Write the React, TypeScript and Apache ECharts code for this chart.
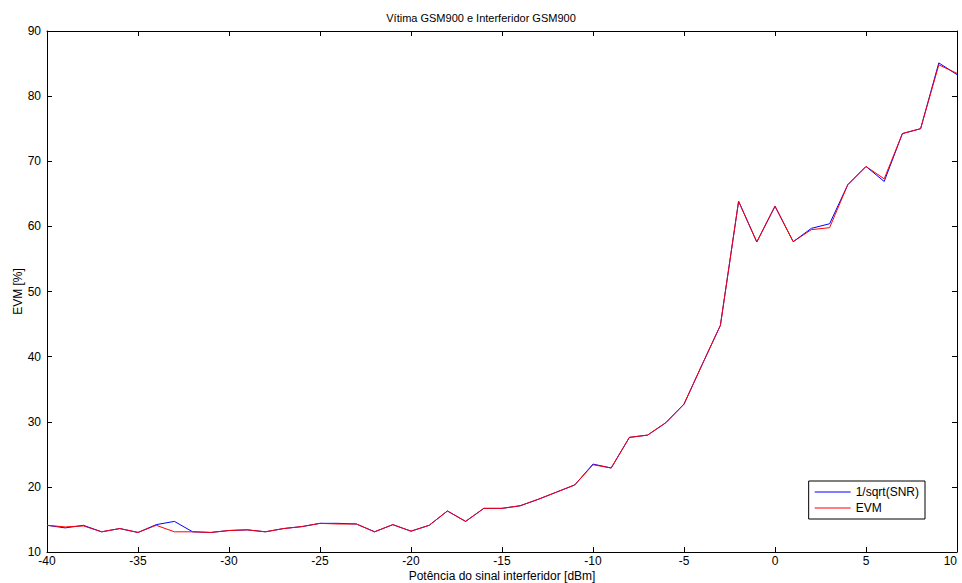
import React, { useEffect, useRef } from "react";
import * as echarts from "echarts";

const xValues = [-40, -39, -38, -37, -36, -35, -34, -33, -32, -31, -30, -29, -28, -27, -26, -25, -24, -23, -22, -21, -20, -19, -18, -17, -16, -15, -14, -13, -12, -11, -10, -9, -8, -7, -6, -5, -4, -3, -2, -1, 0, 1, 2, 3, 4, 5, 6, 7, 8, 9, 10];

const snrValues = [14.1, 13.7, 14.1, 13.1, 13.6, 13.0, 14.2, 14.7, 13.1, 13.0, 13.3, 13.4, 13.1, 13.6, 13.9, 14.4, 14.4, 14.3, 13.1, 14.2, 13.2, 14.1, 16.3, 14.7, 16.7, 16.7, 17.1, 18.1, 19.2, 20.3, 23.5, 22.9, 27.6, 27.95, 29.85, 32.7, 38.8, 44.8, 63.85, 57.6, 63.1, 57.65, 59.7, 60.4, 66.4, 69.2, 66.9, 74.25, 75.0, 85.1, 83.3];

const evmValues = [14.1, 13.85, 14.0, 13.1, 13.6, 13.0, 14.1, 13.1, 13.1, 13.0, 13.3, 13.4, 13.1, 13.6, 13.9, 14.4, 14.3, 14.3, 13.1, 14.2, 13.2, 14.1, 16.3, 14.7, 16.7, 16.7, 17.1, 18.1, 19.2, 20.3, 23.4, 22.9, 27.6, 27.95, 29.85, 32.7, 38.8, 44.8, 63.85, 57.6, 63.1, 57.65, 59.5, 59.8, 66.4, 69.2, 67.3, 74.25, 75.0, 84.8, 83.5];

const xTicks = { min: -40, max: 10, interval: 5 };
const yTicks = { min: 10, max: 90, interval: 10 };

const FONT = "'Liberation Sans', Arial, Helvetica, sans-serif";

export default function App() {
  const ref = useRef<HTMLDivElement>(null);
  useEffect(() => {
    if (!ref.current) return;
    const chart = echarts.init(ref.current, null, { renderer: "svg" });
    const axisLine = { show: true, onZero: false, lineStyle: { color: "#000", width: 1 } };
    const tick = { show: true, inside: true, length: 5, lineStyle: { color: "#000" } };
    chart.setOption({
      animation: false,
      backgroundColor: "#fff",
      textStyle: { fontFamily: FONT },
      title: {
        text: "Vítima GSM900 e Interferidor GSM900",
        left: "center",
        top: 7,
        textStyle: { fontSize: 11, fontWeight: "normal", color: "#000", fontFamily: FONT },
      },
      grid: { left: 47, right: 5, top: 31, bottom: 31, containLabel: false, outerBoundsMode: "none" },
      legend: {
        orient: "vertical",
        right: 37,
        top: 481,
        padding: [5, 6, 5, 6],
        icon: "rect",
        itemWidth: 36,
        itemHeight: 1,
        itemGap: 4,
        borderColor: "#000",
        borderWidth: 1,
        backgroundColor: "#fff",
        textStyle: { fontSize: 12, color: "#000", fontFamily: FONT, lineHeight: 12 },
        data: ["1/sqrt(SNR)", "EVM"],
      },
      xAxis: [
        {
          type: "value",
          min: xTicks.min,
          max: xTicks.max,
          interval: xTicks.interval,
          position: "bottom",
          name: "Potência do sinal interferidor [dBm]",
          nameLocation: "middle",
          nameGap: 17,
          nameMoveOverlap: false,
          nameTextStyle: { fontSize: 12, color: "#000", fontFamily: FONT, lineHeight: 13 },
          axisLine,
          axisTick: tick,
          axisLabel: { fontSize: 12, color: "#000", margin: 3, fontFamily: FONT, alignMaxLabel: "right" },
          splitLine: { show: false },
        },
        {
          type: "value",
          min: xTicks.min,
          max: xTicks.max,
          interval: xTicks.interval,
          position: "top",
          axisLine,
          axisTick: tick,
          axisLabel: { show: false },
          splitLine: { show: false },
        },
      ],
      yAxis: [
        {
          type: "value",
          min: yTicks.min,
          max: yTicks.max,
          interval: yTicks.interval,
          position: "left",
          name: "EVM [%]",
          nameLocation: "middle",
          nameGap: 23,
          nameMoveOverlap: false,
          nameTextStyle: { fontSize: 12, color: "#000", fontFamily: FONT },
          axisLine,
          axisTick: tick,
          axisLabel: { fontSize: 12, color: "#000", margin: 6, fontFamily: FONT },
          splitLine: { show: false },
        },
        {
          type: "value",
          min: yTicks.min,
          max: yTicks.max,
          interval: yTicks.interval,
          position: "right",
          axisLine,
          axisTick: tick,
          axisLabel: { show: false },
          splitLine: { show: false },
        },
      ],
      series: [
        {
          name: "1/sqrt(SNR)",
          type: "line",
          symbol: "none",
          showSymbol: false,
          color: "#0000ff",
          lineStyle: { color: "#0000ff", width: 1 },
          data: xValues.map((x, i) => [x, snrValues[i]]),
        },
        {
          name: "EVM",
          type: "line",
          symbol: "none",
          showSymbol: false,
          color: "#ff0000",
          lineStyle: { color: "#ff0000", width: 1 },
          data: xValues.map((x, i) => [x, evmValues[i]]),
        },
      ],
    });
    return () => chart.dispose();
  }, []);
  return <div ref={ref} style={{ width: 962, height: 583, position: "fixed", left: 0, top: 0 }} />;
}
